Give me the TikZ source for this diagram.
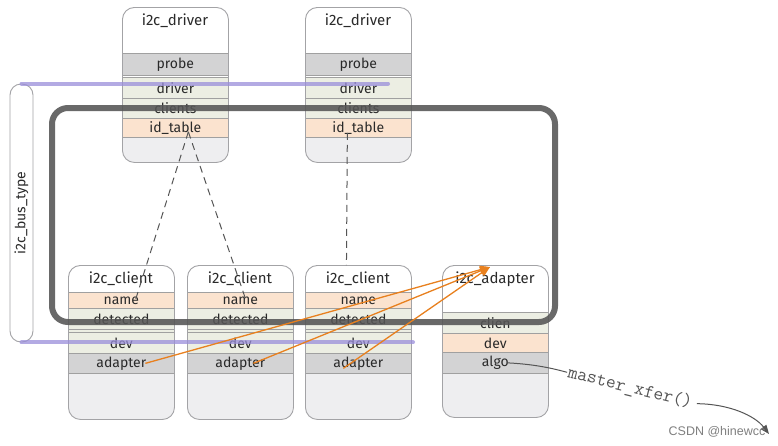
\documentclass[tikz,border=0pt]{standalone}
\usepackage{fontspec}
\setmainfont{Fira Sans}
\newfontfamily\wmfont{Liberation Sans}
\usetikzlibrary{arrows.meta}
\definecolor{boxline}{HTML}{A3A3A6}
\definecolor{sepcol}{HTML}{A0A0A0}
\definecolor{graycol}{HTML}{D3D3D4}
\definecolor{greencol}{HTML}{ECEEE3}
\definecolor{peachcol}{HTML}{FBE3CF}
\definecolor{botcol}{HTML}{EEEEF0}
\definecolor{txtcol}{HTML}{2A2A2A}
\definecolor{purpcol}{HTML}{9A8EDA}
\definecolor{darkgr}{HTML}{555555}
\definecolor{orangecol}{HTML}{E8801E}
\definecolor{dashcol}{HTML}{555555}
\newcommand{\bottomfill}[4]{\begin{scope}\clip[rounded corners=12pt] (#1,#2) rectangle ++(106,#3);\fill[botcol] (#1,#4) rectangle ++(106,200);\end{scope}}
\tikzset{
  rowbox/.style={draw=sepcol, line width=0.7pt, inner sep=0pt, anchor=north west,
    minimum width=106pt, font=\fontsize{14}{15}\selectfont, text=txtcol},
  outerbox/.style={draw=boxline, line width=0.9pt, rounded corners=12pt, inner sep=0pt,
    anchor=north west, minimum width=106pt},
  titlebox/.style={inner sep=0pt, font=\fontsize{15}{16}\selectfont, text=txtcol},
  purpline/.style={draw=purpcol, line width=4pt, opacity=0.75, line cap=round},
  dashline/.style={draw=dashcol, line width=1pt, dash pattern=on 7pt off 5pt},
  orangearrow/.style={draw=orangecol, line width=1.3pt, -{Triangle[length=10pt,width=8pt]}},
  thinarrow/.style={draw=darkgr, line width=1pt},
}
\begin{document}
\begin{tikzpicture}[x=1pt,y=-1pt]
\useasboundingbox (0,0) rectangle (778,445);
\fill[white] (0,0) rectangle (778,445);

% ---------- i2c_driver 1 ----------
\bottomfill{122}{7}{155}{137}
\node[titlebox] (d1t) at (175,21) {i2c\_driver};
\node[rowbox, fill=graycol, minimum height=22pt] (d1probe) at (122,53) {probe};
\node[rowbox, fill=greencol, minimum height=21pt] (d1drv) at (122,77) {driver};
\node[rowbox, fill=greencol, minimum height=20pt] (d1cli) at (122,98) {clients};
\node[rowbox, fill=peachcol, minimum height=19pt] (d1idt) at (122,118) {id\_table};
\node[outerbox, minimum height=155pt] (drv1) at (122,7) {};

% ---------- i2c_driver 2 ----------
\bottomfill{305}{7}{155}{137}
\node[titlebox] (d2t) at (358,21) {i2c\_driver};
\node[rowbox, fill=graycol, minimum height=22pt] (d2probe) at (305,53) {probe};
\node[rowbox, fill=greencol, minimum height=21pt] (d2drv) at (305,77) {driver};
\node[rowbox, fill=greencol, minimum height=20pt] (d2cli) at (305,98) {clients};
\node[rowbox, fill=peachcol, minimum height=19pt] (d2idt) at (305,118) {id\_table};
\node[outerbox, minimum height=155pt] (drv2) at (305,7) {};

% ---------- i2c_client 1 ----------
\bottomfill{68}{265}{154}{373}
\node[titlebox] (c1t) at (121,279) {i2c\_client};
\node[rowbox, fill=peachcol, minimum height=16pt] (c1name) at (68,292) {name};
\node[rowbox, fill=greencol, minimum height=21pt] (c1det) at (68,308) {detected};
\node[rowbox, fill=greencol, minimum height=3pt] (c1gap) at (68,329) {};
\node[rowbox, fill=greencol, minimum height=21pt] (c1dev) at (68,332) {dev};
\node[rowbox, fill=graycol, minimum height=20pt] (c1adp) at (68,353) {adapter};
\node[outerbox, minimum height=154pt] (cli1) at (68,265) {};

% ---------- i2c_client 2 ----------
\bottomfill{187}{265}{154}{373}
\node[titlebox] (c2t) at (240,279) {i2c\_client};
\node[rowbox, fill=peachcol, minimum height=16pt] (c2name) at (187,292) {name};
\node[rowbox, fill=greencol, minimum height=21pt] (c2det) at (187,308) {detected};
\node[rowbox, fill=greencol, minimum height=3pt] (c2gap) at (187,329) {};
\node[rowbox, fill=greencol, minimum height=21pt] (c2dev) at (187,332) {dev};
\node[rowbox, fill=graycol, minimum height=20pt] (c2adp) at (187,353) {adapter};
\node[outerbox, minimum height=154pt] (cli2) at (187,265) {};

% ---------- i2c_client 3 ----------
\bottomfill{305}{265}{154}{373}
\node[titlebox] (c3t) at (358,279) {i2c\_client};
\node[rowbox, fill=peachcol, minimum height=16pt] (c3name) at (305,292) {name};
\node[rowbox, fill=greencol, minimum height=21pt] (c3det) at (305,308) {detected};
\node[rowbox, fill=greencol, minimum height=3pt] (c3gap) at (305,329) {};
\node[rowbox, fill=greencol, minimum height=21pt] (c3dev) at (305,332) {dev};
\node[rowbox, fill=graycol, minimum height=20pt] (c3adp) at (305,353) {adapter};
\node[outerbox, minimum height=154pt] (cli3) at (305,265) {};

% ---------- i2c_adapter ----------
\bottomfill{442}{265}{152}{373}
\node[titlebox] (at) at (495,279) {i2c\_adapter};
\node[rowbox, fill=greencol, minimum height=21pt] (aclien) at (442,312) {clien};
\node[rowbox, fill=peachcol, minimum height=19pt] (adev) at (442,333) {dev};
\node[rowbox, fill=graycol, minimum height=21pt] (aalgo) at (442,352) {algo};
\node[outerbox, minimum height=152pt] (adp) at (442,265) {};

% ---------- i2c_bus_type ----------
\node[draw=boxline, line width=0.9pt, fill=white, rounded corners=11pt, inner sep=0pt,
  minimum width=23pt, minimum height=258pt] (bus) at (21.5,213) {};
\node[rotate=90, inner sep=0pt, font=\fontsize{14}{15}\selectfont, text=txtcol] (bust) at (bus.center) {i2c\_bus\_type};

% purple bus lines
\coordinate (ptop) at (388,84);
\coordinate (pbot) at (413,342);
\draw[purpline] (bus.north) -- (bus.north -| ptop);
\draw[purpline] (bus.south) -- (bus.south -| pbot);

% dashed id_table -> clients
\draw[dashline] ([xshift=13pt,yshift=-4pt]d1idt.center) -- ([xshift=14pt]c1name.center);
\draw[dashline] ([xshift=13pt,yshift=-4pt]d1idt.center) -- ([xshift=5pt,yshift=2pt]c2name.center);
\draw[dashline] ([xshift=-11pt,yshift=-5pt]d2idt.center) -- ([xshift=-12pt]cli3.north);

% dark rounded frame
\node[draw=darkgr, line width=6pt, rounded corners=16pt, opacity=0.88, inner sep=0pt,
  minimum width=503pt, minimum height=214pt] (frame) at (303.5,215) {};

% orange arrows adapter -> i2c_adapter
\coordinate (atip) at ([xshift=-5pt,yshift=12pt]at.center);
\draw[orangearrow] ([xshift=24pt]c1adp.center) -- (atip);
\draw[orangearrow] ([xshift=13pt]c2adp.center) -- (atip);
\draw[orangearrow] ([xshift=-15pt,yshift=-5pt]c3adp.center) -- (atip);

% master_xfer
\node[rotate=-14, inner sep=1pt, text=darkgr, font=\ttfamily\fontsize{19}{21}\selectfont] (mx) at (630,388) {master\_xfer()};
\coordinate (mxend) at (769,434);
\draw[thinarrow] ([xshift=12pt]aalgo.center) .. controls (530,364) and (548,367) .. (mx.west);
\draw[thinarrow, -{Triangle[length=9pt,width=7pt]}] ([xshift=4pt]mx.east) .. controls (730,404) and (755,416) .. (mxend);

% watermark
\node[text=black!50, font=\wmfont\fontsize{12.5}{14}\selectfont] (wm) at (717,432) {CSDN @hinewcc};
\end{tikzpicture}
\end{document}
